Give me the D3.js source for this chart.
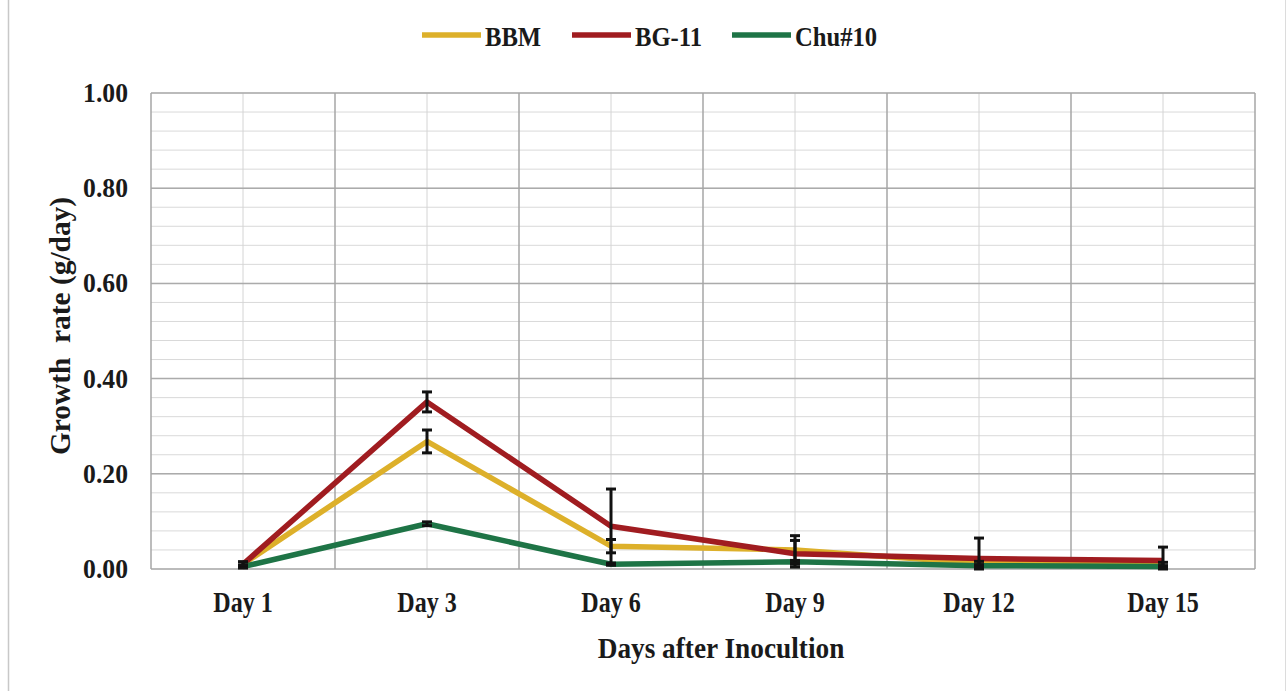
<!DOCTYPE html>
<html><head><meta charset="utf-8">
<script src="https://cdn.jsdelivr.net/npm/d3@7"></script>
<style>
html,body{margin:0;padding:0;background:#fff;}
text{font-family:"Liberation Serif","Times New Roman",serif;font-weight:bold;fill:#1a1a1a;white-space:pre;}
</style></head>
<body>
<svg id="chart" width="1287" height="691"></svg>
<script>
// ---- data ----
const days = ["Day 1","Day 3","Day 6","Day 9","Day 12","Day 15"];
const seriesNames = ["BBM","BG-11","Chu#10"];
const bbm  = [0.010, 0.268, 0.048, 0.040, 0.012, 0.010];
const bg11 = [0.010, 0.351, 0.090, 0.032, 0.022, 0.018];
const chu  = [0.005, 0.095, 0.010, 0.015, 0.007, 0.005];
const bbmErr  = [0.005, 0.024, 0.014, 0.030, 0.004, 0.004];
const bg11Err = [0.005, 0.021, 0.078, 0.028, 0.043, 0.028];
const chuErr  = [0.003, 0.004, 0.002, 0.003, 0.002, 0.002];
const yTicks = [0, 0.2, 0.4, 0.6, 0.8, 1.0];
const yMinorTicks = d3.range(0, 1.0001, 0.04);
const colors = ["#DDB02A", "#A01C20", "#1E7446"];

const svg = d3.select("#chart");
const L = 151, R = 1255, T = 93, B = 569;
const x = d3.scaleBand().domain(days).range([L, R]).padding(0);
const y = d3.scaleLinear().domain([0, 1]).range([B, T]);
const cx = d => x(d) + x.bandwidth() / 2;

// outer frame lines
svg.append("line").attr("x1", 8.5).attr("x2", 8.5).attr("y1", 0).attr("y2", 691).attr("stroke", "#c8c8c8").attr("stroke-width", 1.5);
svg.append("line").attr("x1", 1285.5).attr("x2", 1285.5).attr("y1", 0).attr("y2", 691).attr("stroke", "#dcdcdc").attr("stroke-width", 1);

// minor horizontal grid
svg.append("g").selectAll("line").data(yMinorTicks).join("line")
  .attr("x1", L).attr("x2", R).attr("y1", d => y(d)).attr("y2", d => y(d))
  .attr("stroke", "#d9d9d9").attr("stroke-width", 1);
// minor vertical grid at category centers
svg.append("g").selectAll("line").data(days).join("line")
  .attr("x1", d => cx(d)).attr("x2", d => cx(d)).attr("y1", T).attr("y2", B)
  .attr("stroke", "#d4d4d4").attr("stroke-width", 1);
// major horizontal grid
svg.append("g").selectAll("line").data(yTicks).join("line")
  .attr("x1", L).attr("x2", R).attr("y1", d => y(d)).attr("y2", d => y(d))
  .attr("stroke", "#ababab").attr("stroke-width", 1.5);
// major vertical grid at category boundaries
svg.append("g").selectAll("line").data(days.concat(["end"])).join("line")
  .attr("x1", (d, i) => i < days.length ? x(d) : R).attr("x2", (d, i) => i < days.length ? x(d) : R)
  .attr("y1", T).attr("y2", B)
  .attr("stroke", "#a6a6a6").attr("stroke-width", 1.5);

// helper for stretched text
function txt(g, s, px, py, size, sx, anchor, rot) {
  return g.append("text")
    .attr("transform", `translate(${px},${py})` + (rot ? ` rotate(${rot})` : "") + ` scale(${sx},1)`)
    .attr("font-size", size).attr("text-anchor", anchor || "start").text(s);
}

// y tick labels
const fmt = d3.format(".2f");
const gy = svg.append("g");
yTicks.forEach(t => txt(gy, fmt(t), 128, y(t) + 9, 27, 0.95, "end"));
// x tick labels
const gx = svg.append("g");
days.forEach(d => txt(gx, d, cx(d), 612, 29, 0.83, "middle"));

// axis titles
txt(svg, "Days after Inocultion", 721, 658, 30, 0.91, "middle");
txt(svg, "Growth  rate (g/day)", 70, 326, 30, 0.98, "middle", -90);

// series lines and error bars
const allVals = [bbm, bg11, chu];
const allErr = [bbmErr, bg11Err, chuErr];
const line = d3.line().x((d, i) => cx(days[i])).y(d => y(d));
allVals.forEach((vals, si) => {
  svg.append("path").datum(vals).attr("d", line)
    .attr("fill", "none").attr("stroke", colors[si]).attr("stroke-width", 5.5)
    .attr("stroke-linejoin", "round").attr("stroke-linecap", "butt");
});
allVals.forEach((vals, si) => {
  const g = svg.append("g").attr("stroke", "#111").attr("stroke-width", 3);
  vals.forEach((v, i) => {
    const e = allErr[si][i];
    const xc = cx(days[i]);
    g.append("line").attr("x1", xc).attr("x2", xc).attr("y1", y(v + e)).attr("y2", y(Math.max(0, v - e)));
    g.append("line").attr("x1", xc - 5).attr("x2", xc + 5).attr("y1", y(v + e)).attr("y2", y(v + e));
    g.append("line").attr("x1", xc - 5).attr("x2", xc + 5).attr("y1", y(Math.max(0, v - e))).attr("y2", y(Math.max(0, v - e)));
  });
});

// legend
const legX = [422, 572, 732];
const leg = svg.append("g");
seriesNames.forEach((n, i) => {
  leg.append("line").attr("x1", legX[i]).attr("x2", legX[i] + 59).attr("y1", 35).attr("y2", 35)
    .attr("stroke", colors[i]).attr("stroke-width", 5.5);
  txt(leg, n, legX[i] + 63, 46, 28, 0.88, "start");
});
</script>
</body></html>
